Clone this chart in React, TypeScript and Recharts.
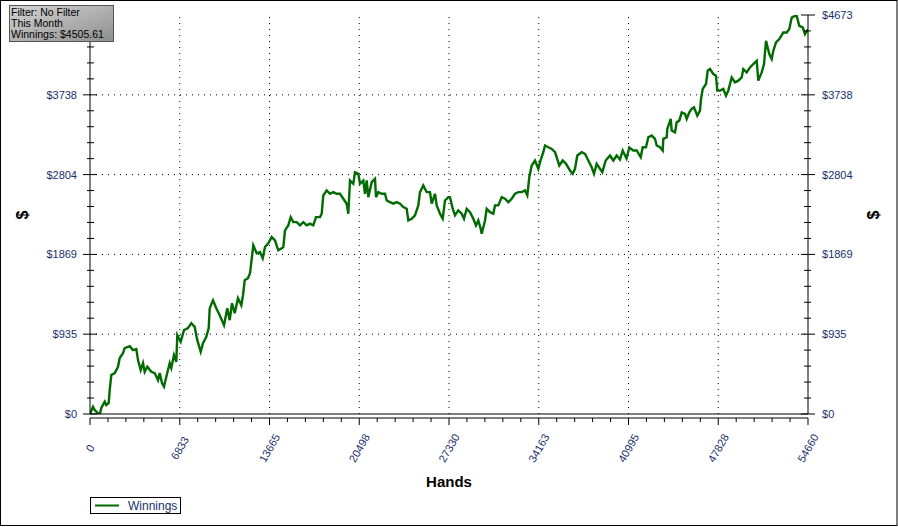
import React from 'react';
import { LineChart, Line, XAxis, YAxis, ReferenceLine } from 'recharts';

const GREEN = '#006b00';
const LABEL = '#17306b';
const FONT = '"Liberation Sans", Arial, sans-serif';

/* ─── data ──────────────────────────────────────────── */
const hands = [
  0, 228, 358, 738, 860, 1119, 1241, 1424, 1500, 1622, 1880, 2132, 2261, 2512, 2642, 3022, 3273, 3525, 3654, 3860,
  4035, 4164, 4362, 4667, 4925, 5177, 5306, 5481, 5633, 5809, 6067, 6189, 6395, 6570, 6646, 6905, 7156, 7461, 7712, 7971,
  8169, 8427, 8602, 8854, 9036, 9113, 9364, 9615, 9874, 10201, 10452, 10635, 10810, 11016, 11267, 11518, 11648, 11777, 12028, 12180,
  12432, 12691, 12942, 13147, 13322, 13574, 13833, 14084, 14335, 14594, 14716, 14845, 15096, 15279, 15477, 15736, 15987, 16238, 16497, 16748,
  16999, 17205, 17509, 17639, 17761, 18020, 18271, 18522, 18781, 19032, 19283, 19542, 19664, 19793, 20044, 20174, 20425, 20555, 20806, 20935,
  21065, 21187, 21446, 21697, 21773, 21948, 22207, 22458, 22588, 22838, 23090, 23349, 23600, 23851, 24110, 24232, 24491, 24742, 24993, 25122,
  25374, 25633, 25884, 26013, 26264, 26394, 26645, 26851, 27025, 27277, 27406, 27611, 27787, 28038, 28297, 28472, 28678, 28929, 29180, 29385,
  29561, 29744, 29820, 30071, 30200, 30451, 30702, 30832, 31083, 31342, 31593, 31844, 32103, 32354, 32606, 32864, 33116, 33291, 33443, 33626,
  33877, 34129, 34258, 34509, 34638, 34890, 35149, 35400, 35529, 35727, 35986, 36237, 36541, 36747, 36922, 37097, 37432, 37683, 37934, 38193,
  38368, 38574, 38825, 39000, 39259, 39587, 39838, 40097, 40348, 40553, 40843, 41056, 41361, 41619, 41924, 42076, 42327, 42503, 42762, 43013,
  43142, 43393, 43599, 43644, 43903, 43949, 44208, 44284, 44535, 44665, 44862, 45045, 45296, 45425, 45623, 45806, 45981, 46232, 46438, 46514,
  46644, 46895, 47024, 47199, 47451, 47656, 47755, 47961, 48212, 48417, 48592, 48722, 48851, 49103, 49354, 49613, 49735, 49994, 50245, 50496,
  50755, 50877, 51136, 51311, 51463, 51714, 51897, 52019, 52224, 52476, 52780, 53039, 53237, 53420, 53671, 53800, 53998, 54257, 54432, 54660,
];

const winnings = [
  0, 85, 47, -12, 70, 144, 105, 129, 280, 456, 479, 553, 655, 713, 771, 795, 748, 760, 631, 514,
  596, 494, 553, 494, 479, 397, 479, 362, 319, 436, 596, 538, 690, 611, 923, 845, 982, 1005, 1064, 1020,
  865, 728, 830, 903, 1005, 1239, 1332, 1239, 1157, 1040, 1239, 1099, 1297, 1180, 1356, 1274, 1391, 1566, 1590, 1648,
  1975, 1882, 1897, 1823, 1955, 1999, 2072, 2034, 1917, 1940, 1955, 2151, 2209, 2306, 2247, 2247, 2209, 2247, 2209, 2229,
  2209, 2306, 2306, 2346, 2560, 2618, 2579, 2598, 2579, 2579, 2521, 2463, 2346, 2735, 2696, 2832, 2813, 2696, 2735, 2579,
  2735, 2540, 2715, 2755, 2540, 2598, 2579, 2579, 2501, 2481, 2463, 2481, 2463, 2423, 2404, 2267, 2287, 2326, 2443, 2598,
  2676, 2598, 2598, 2463, 2579, 2443, 2346, 2287, 2501, 2540, 2540, 2404, 2326, 2384, 2346, 2287, 2404, 2364, 2287, 2209,
  2267, 2170, 2112, 2267, 2404, 2364, 2346, 2443, 2443, 2540, 2521, 2481, 2521, 2579, 2598, 2598, 2618, 2560, 2773, 2910,
  2969, 2872, 2949, 3066, 3144, 3124, 3105, 3066, 3007, 2910, 2969, 2930, 2852, 2813, 2872, 3027, 3066, 3047, 2969, 2890,
  2813, 2930, 2872, 2832, 2969, 3027, 2969, 3027, 2980, 3086, 2992, 3121, 3086, 3086, 3007, 3124, 3124, 3241, 3261, 3222,
  3144, 3124, 3086, 3222, 3241, 3339, 3456, 3319, 3299, 3416, 3436, 3533, 3514, 3456, 3533, 3573, 3592, 3495, 3553, 3690,
  3807, 3865, 4021, 4040, 3982, 3962, 3787, 3787, 3807, 3728, 3787, 3865, 3942, 3884, 3904, 3942, 4040, 4001, 4059, 4099,
  4137, 3904, 4001, 4099, 4371, 4216, 4157, 4254, 4351, 4391, 4468, 4468, 4508, 4643, 4663, 4663, 4546, 4527, 4449, 4506,
];

const xMajor = [0, 6833, 13665, 20498, 27330, 34163, 40995, 47828, 54660];
const yMajor = [0, 935, 1869, 2804, 3738, 4673];

const infoLines = ['Filter: No Filter', 'This Month', 'Winnings: $4505.61'];

// 5 subdivisions between each pair of major ticks
function withMinor(major: number[]) {
  const out: number[] = [];
  major.forEach((v, i) => {
    out.push(v);
    const next = major[i + 1];
    if (next === undefined) return;
    for (let k = 1; k < 5; k++) out.push(v + ((next - v) * k) / 5);
  });
  return out;
}

const xTicks = withMinor(xMajor);
const yTicks = withMinor(yMajor);

const data = hands.slice(0, Math.min(hands.length, winnings.length)).map((h, i) => ({ hands: h, winnings: winnings[i] }));

/* ─── tick renderers ─────────────────────────────────── */
const BottomTick = (props: any) => {
  const { x, y, payload } = props;
  const major = xMajor.includes(payload.value);
  return (
    <g>
      <line x1={x} x2={x} y1={y} y2={y + (major ? 7 : 4)} stroke="#000" />
      {major && (
        <text x={x} y={y + 30} textAnchor="middle" dominantBaseline="central"
          transform={`rotate(-60, ${x}, ${y + 30})`}
          style={{ fontFamily: FONT, fontSize: 11, fill: LABEL }}>
          {payload.value}
        </text>
      )}
    </g>
  );
};

const TopTick = (props: any) => {
  const { x, y } = props;
  return <line x1={x} x2={x} y1={y} y2={y + 4} stroke="#000" />;
};

// the top label on the left axis sits under the info box in the original, so it is left out
const LeftTick = (props: any) => {
  const { x, y, payload } = props;
  const major = yMajor.includes(payload.value);
  const top = payload.value === yMajor[yMajor.length - 1];
  return (
    <g>
      <line x1={x - (major ? 7 : 3)} x2={x + (major ? 7 : 4)} y1={y} y2={y} stroke="#000" />
      {major && !top && (
        <text x={x - 13} y={y} textAnchor="end" dominantBaseline="central"
          style={{ fontFamily: FONT, fontSize: 11, fill: LABEL }}>
          ${payload.value}
        </text>
      )}
    </g>
  );
};

const RightTick = (props: any) => {
  const { x, y, payload } = props;
  const major = yMajor.includes(payload.value);
  return (
    <g>
      <line x1={x - (major ? 7 : 4)} x2={x + (major ? 7 : 3)} y1={y} y2={y} stroke="#000" />
      {major && (
        <text x={x + 14} y={y} textAnchor="start" dominantBaseline="central"
          style={{ fontFamily: FONT, fontSize: 11, fill: LABEL }}>
          ${payload.value}
        </text>
      )}
    </g>
  );
};

export default function App() {
  return (
    <div style={{ position: 'absolute', left: 0, top: 0, width: 898, height: 527, background: '#fff' }}>
      <LineChart width={898} height={527} data={data} margin={{ top: 15, right: 0, bottom: 0, left: 0 }}>
        <XAxis xAxisId="main" dataKey="hands" type="number" domain={[0, 54660]} allowDataOverflow
          height={4} tick={false} tickLine={false} axisLine={{ stroke: '#000' }} />
        <XAxis xAxisId="ticks" dataKey="hands" type="number" domain={[0, 54660]} allowDataOverflow
          height={109} ticks={xTicks} interval={0} tickSize={0} tickMargin={0}
          tickLine={false} axisLine={{ stroke: '#000' }} tick={<BottomTick />} />
        <XAxis xAxisId="top" orientation="top" dataKey="hands" type="number" domain={[0, 54660]} allowDataOverflow
          height={0} ticks={xTicks} interval={0} tickSize={0} tickMargin={0}
          tickLine={false} axisLine={{ stroke: '#000' }} tick={<TopTick />} />
        <YAxis yAxisId="left" type="number" domain={[0, 4673]} allowDataOverflow width={90}
          ticks={yTicks} interval={0} tickSize={0} tickMargin={0}
          tickLine={false} axisLine={{ stroke: '#000' }} tick={<LeftTick />} />
        <YAxis yAxisId="right" orientation="right" type="number" domain={[0, 4673]} allowDataOverflow width={90}
          ticks={yTicks} interval={0} tickSize={0} tickMargin={0}
          tickLine={false} axisLine={{ stroke: '#000' }} tick={<RightTick />} />

        {xMajor.slice(1, -1).map(v => (
          <ReferenceLine key={'x' + v} x={v} xAxisId="main" yAxisId="left" stroke="#000" strokeDasharray="1 5" />
        ))}
        {yMajor.slice(1, -1).map(v => (
          <ReferenceLine key={'y' + v} y={v} xAxisId="main" yAxisId="left" stroke="#000" strokeDasharray="1 5" />
        ))}

        <Line xAxisId="main" yAxisId="left" dataKey="winnings" type="linear" stroke={GREEN} strokeWidth={2.4}
          dot={false} isAnimationActive={false} />
      </LineChart>

      {/* frame, info box, titles and legend */}
      <svg width={898} height={527} style={{ position: 'absolute', left: 0, top: 0, pointerEvents: 'none' }}>
        <defs>
          <linearGradient id="infoFill" x1="0" y1="0" x2="1" y2="1">
            <stop offset="0%" stopColor="#d4d4d4" />
            <stop offset="100%" stopColor="#8e8e8e" />
          </linearGradient>
        </defs>
        <rect x={0.5} y={0.5} width={896.5} height={525} fill="none" stroke="#000" />

        <rect x={9.5} y={5.5} width={104} height={36} fill="url(#infoFill)" stroke="#555" />
        {infoLines.map((t, i) => (
          <text key={t} x={11} y={16 + i * 11}
            style={{ fontFamily: FONT, fontSize: 10.5, fill: '#000' }}>{t}</text>
        ))}

        <text x={22} y={215} textAnchor="middle" dominantBaseline="central" transform="rotate(-90, 22, 215)"
          style={{ fontFamily: FONT, fontSize: 16, fontWeight: 700, fill: '#000' }}>$</text>
        <text x={873} y={215} textAnchor="middle" dominantBaseline="central" transform="rotate(-90, 873, 215)"
          style={{ fontFamily: FONT, fontSize: 16, fontWeight: 700, fill: '#000' }}>$</text>
        <text x={449} y={481} textAnchor="middle" dominantBaseline="central"
          style={{ fontFamily: FONT, fontSize: 15, fontWeight: 700, fill: '#000' }}>Hands</text>

        <rect x={90.5} y={497.5} width={90} height={16} fill="#fff" stroke="#000" />
        <line x1={95} x2={119} y1={505.5} y2={505.5} stroke={GREEN} strokeWidth={2} />
        <text x={128} y={506} dominantBaseline="central" style={{ fontFamily: FONT, fontSize: 12, fill: LABEL }}>Winnings</text>
      </svg>
    </div>
  );
}
